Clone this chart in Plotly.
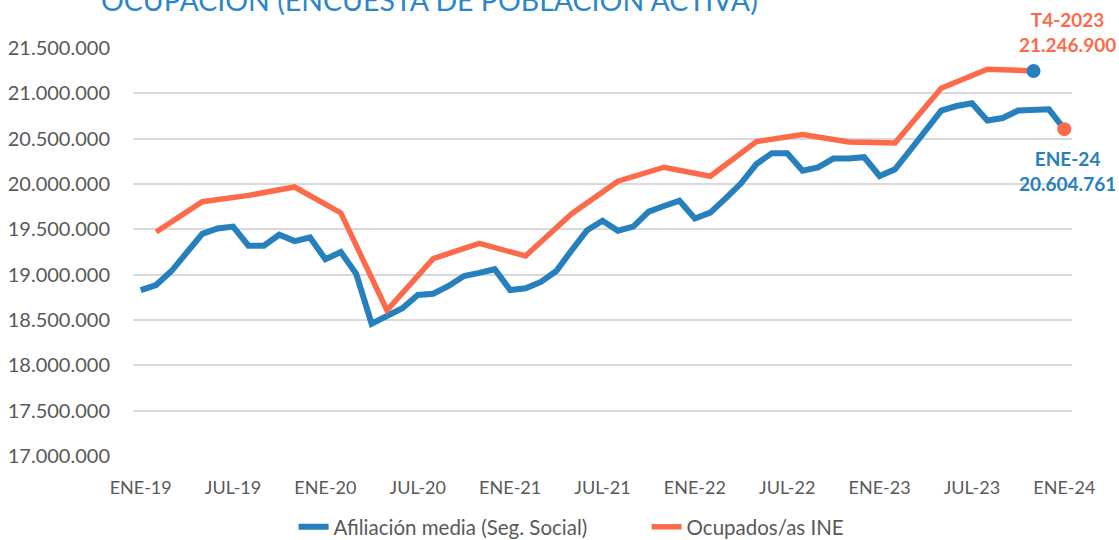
import plotly.graph_objects as go

# ---- data ----
month_labels = [f"{m}-{y}" for y in ["19", "20", "21", "22", "23"] for m in
                ["ENE", "FEB", "MAR", "ABR", "MAY", "JUN", "JUL", "AGO", "SEP", "OCT", "NOV", "DIC"]] + ["ENE-24"]

afiliacion = [
    18830000, 18886000, 19040000, 19240000, 19450000, 19510000, 19530000, 19320000, 19320000, 19440000, 19370000, 19410000,
    19170000, 19250000, 19010000, 18460000, 18547000, 18630000, 18776000, 18790000, 18875000, 18985000, 19020000, 19060000,
    18830000, 18850000, 18920000, 19040000, 19270000, 19490000, 19595000, 19485000, 19530000, 19695000, 19757000, 19816000,
    19620000, 19684000, 19842000, 20008000, 20220000, 20340000, 20340000, 20147000, 20184000, 20280000, 20280000, 20295000,
    20088000, 20162000, 20375000, 20595000, 20810000, 20860000, 20890000, 20700000, 20728000, 20810000, 20810000, 20824000,
    20604761,
]

# EPA quarterly, plotted at the middle month of each quarter
epa_months = ["FEB-19", "MAY-19", "AGO-19", "NOV-19", "FEB-20", "MAY-20", "AGO-20", "NOV-20",
              "FEB-21", "MAY-21", "AGO-21", "NOV-21", "FEB-22", "MAY-22", "AGO-22", "NOV-22",
              "FEB-23", "MAY-23", "AGO-23", "NOV-23"]
ocupados = [19471100, 19804900, 19874300, 19966900, 19681300, 18607200, 19176900, 19344300,
            19206800, 19671700, 20031000, 20184900, 20084700, 20468000, 20545700, 20463900,
            20452800, 21056700, 21265900, 21246900]

tick_labels = ["ENE-19", "JUL-19", "ENE-20", "JUL-20", "ENE-21", "JUL-21",
               "ENE-22", "JUL-22", "ENE-23", "JUL-23", "ENE-24"]
y_ticks = [17000000, 17500000, 18000000, 18500000, 19000000, 19500000,
           20000000, 20500000, 21000000, 21500000]

# ---- positions derived from labels ----
idx = {lab: i for i, lab in enumerate(month_labels)}
x_afil = [idx[m] for m in month_labels]
x_epa = [idx[m] for m in epa_months]
x_ticks = [idx[t] for t in tick_labels]

BLUE = "#2680bd"
ORANGE = "#fd6a4a"
GRAY = "#595959"
FONT = "Lato"

fig = go.Figure()
fig.add_trace(go.Scatter(x=x_afil, y=afiliacion, mode="lines", name="Afiliación media (Seg. Social)",
                         line=dict(color=BLUE, width=6)))
fig.add_trace(go.Scatter(x=x_epa, y=ocupados, mode="lines", name="Ocupados/as INE",
                         line=dict(color=ORANGE, width=5.5)))
# end markers (colours as in the original)
fig.add_trace(go.Scatter(x=[x_epa[-1]], y=[ocupados[-1]], mode="markers", showlegend=False,
                         marker=dict(color=BLUE, size=14)))
fig.add_trace(go.Scatter(x=[x_afil[-1]], y=[afiliacion[-1]], mode="markers", showlegend=False,
                         marker=dict(color=ORANGE, size=14)))

fig.add_annotation(x=x_epa[-1], y=ocupados[-1], xref="x", yref="y",
                   text="<b>T4-2023<br>21.246.900</b>", showarrow=False, align="center",
                   xanchor="right", yanchor="bottom", xshift=84, yshift=13,
                   font=dict(family=FONT, size=19, color=ORANGE))
fig.add_annotation(x=x_afil[-1], y=afiliacion[-1], xref="x", yref="y",
                   text="<b>ENE-24<br>20.604.761</b>", showarrow=False, align="center",
                   xanchor="right", yanchor="top", xshift=54, yshift=-16,
                   font=dict(family=FONT, size=19, color=BLUE))
fig.add_annotation(x=0.316, y=1.117, xref="paper", yref="paper",
                   text="OCUPACIÓN (ENCUESTA DE POBLACIÓN ACTIVA)", showarrow=False,
                   xanchor="center", yanchor="middle",
                   font=dict(family=FONT, size=28.5, color="#2a86c8"))

fig.update_layout(
    width=1119, height=540,
    margin=dict(l=133, r=47, t=48, b=84, autoexpand=False),
    paper_bgcolor="white", plot_bgcolor="white",
    separators=",.",
    font=dict(family=FONT, color=GRAY),
    legend=dict(orientation="h", x=0.171, xanchor="left", y=-0.174, yanchor="middle",
                entrywidth=308, entrywidthmode="pixels",
                font=dict(family=FONT, size=20.5, color=GRAY)),
    showlegend=True,
)
fig.update_xaxes(range=[-0.5, len(month_labels) - 0.5], tickvals=x_ticks, ticktext=tick_labels,
                 showgrid=False, zeroline=False, showline=False, ticks="", automargin=False,
                 tickfont=dict(family=FONT, size=18, color=GRAY), ticklabelstandoff=19)
fig.update_yaxes(range=[17000000, 21500000], tickvals=y_ticks, tickformat=",.0f",
                 showgrid=True, gridcolor="#d9d9d9", gridwidth=1.5, zeroline=False, automargin=False,
                 showline=False, ticks="", tickfont=dict(family=FONT, size=20, color=GRAY),
                 ticklabelstandoff=22)

fig.write_html("out.html", config={"displayModeBar": False},
               post_script="document.body.style.margin='0';document.body.style.overflow='hidden';")
